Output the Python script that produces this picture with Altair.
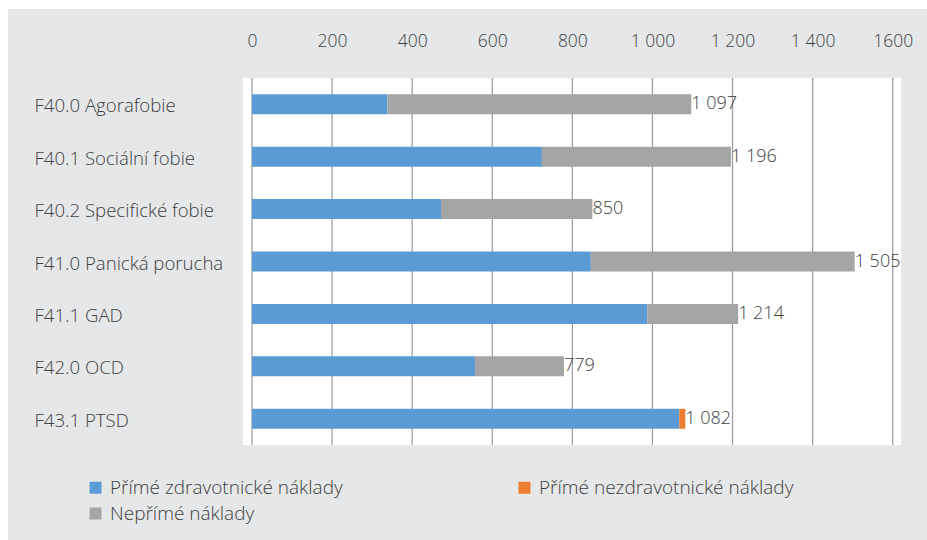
import altair as alt
import pandas as pd

# ---- data ----
categories = [
    "F40.0 Agorafobie",
    "F40.1 Sociální fobie",
    "F40.2 Specifické fobie",
    "F41.0 Panická porucha",
    "F41.1 GAD",
    "F42.0 OCD",
    "F43.1 PTSD",
]
series_names = [
    "Přímé zdravotnické náklady",
    "Přímé nezdravotnické náklady",
    "Nepřímé náklady",
]
direct_medical = [338, 724, 472, 846, 987, 557, 1067]
direct_nonmedical = [0, 0, 0, 0, 0, 0, 15]
indirect = [759, 472, 378, 659, 227, 222, 0]
totals = [1097, 1196, 850, 1505, 1214, 779, 1082]
tick_values = [0, 200, 400, 600, 800, 1000, 1200, 1400, 1600]
tick_labels = ["0", "200", "400", "600", "800", "1 000", "1 200", "1 400", "1600"]
colors = ["#5b9bd5", "#ed7d31", "#a5a5a5"]

# ---- tables ----
rows = []
for i, c in enumerate(categories):
    for k, vals in enumerate([direct_medical, direct_nonmedical, indirect]):
        rows.append({"category": c, "series": series_names[k], "value": vals[i], "order": k})
bars_df = pd.DataFrame(rows)
labels_df = pd.DataFrame({
    "category": categories,
    "total": totals,
    "label": [f"{v:,}".replace(",", " ") for v in totals],
})
ticks_df = pd.DataFrame({"tick": tick_values})
one = pd.DataFrame({"a": [0]})

# legend fills column by column: order so rows read blue, orange / gray
legend_order = [series_names[0], series_names[2], series_names[1]]
legend_colors = [colors[0], colors[2], colors[1]]

W, H = 658, 367
FONT = "Open Sans"
TXT = "#404040"

label_expr = " : ".join(
    f"datum.value == {v} ? '{l}'" for v, l in zip(tick_values, tick_labels)
) + " : ''"

xscale = alt.Scale(domain=[-22.5, 1620.7], nice=False, zero=False)
xaxis = alt.Axis(
    orient="top", values=tick_values, labelExpr=label_expr, title=None,
    grid=False, ticks=False, domain=False, labelPadding=28, zindex=1,
    labelFontSize=17.5, labelColor=TXT, labelFont=FONT, labelFontWeight=300,
)
yaxis = alt.Axis(
    title=None, ticks=False, domain=False, grid=False, labelAlign="left",
    labelPadding=209, labelFontSize=18.6, labelColor=TXT, labelFont=FONT,
    labelFontWeight=300, labelLimit=300, zindex=1, labelOffset=2,
)
yenc = alt.Y("category:N", sort=categories,
             scale=alt.Scale(paddingInner=0.62, paddingOuter=0.31), axis=yaxis)

bg = alt.Chart(one).mark_rect(color="#e6e7e8").encode(
    x=alt.value(-235), x2=alt.value(684), y=alt.value(-69), y2=alt.value(462)
)
panel = alt.Chart(one).mark_rect(color="white").encode(
    x=alt.value(0), x2=alt.value(W), y=alt.value(0), y2=alt.value(H)
)
grid = alt.Chart(ticks_df).mark_rule(color="#a0a0a0", strokeWidth=1.3).encode(
    x=alt.X("tick:Q", scale=xscale, axis=xaxis),
    y=alt.value(0), y2=alt.value(H),
)
bars = alt.Chart(bars_df).mark_bar(size=20).encode(
    x=alt.X("value:Q", stack="zero", scale=xscale, axis=xaxis),
    y=yenc,
    color=alt.Color(
        "series:N",
        scale=alt.Scale(domain=legend_order, range=legend_colors),
        legend=alt.Legend(
            orient="none", legendX=-157, legendY=400, columns=2,
            columnPadding=172, rowPadding=6, title=None,
            symbolType="square", symbolSize=144, symbolStrokeWidth=0,
            labelFontSize=19, labelColor=TXT, labelFont=FONT,
            labelFontWeight=300, labelLimit=400, labelOffset=5,
        ),
    ),
    order=alt.Order("order:Q"),
)
text = alt.Chart(labels_df).mark_text(
    align="left", baseline="middle", dx=0, fontSize=18, color=TXT,
    font=FONT, fontWeight=300,
).encode(
    x=alt.X("total:Q", scale=xscale, axis=xaxis),
    y=yenc,
    text="label:N",
)

chart = alt.layer(bg, panel, grid, bars, text).properties(
    width=W, height=H,
    autosize=alt.AutoSizeParams(type="none"),
    padding={"left": 243, "top": 78, "right": 26, "bottom": 95},
    background="white",
).configure_view(strokeWidth=0).configure(font=FONT)

chart.save("out.html", embed_options={"renderer": "svg", "actions": False})
